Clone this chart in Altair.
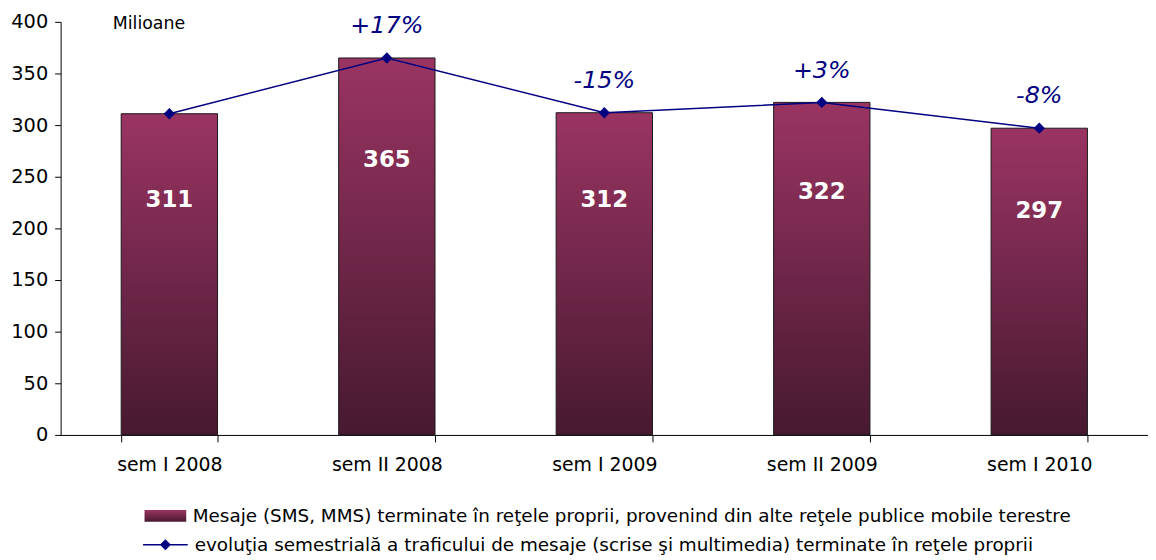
import altair as alt
import pandas as pd

categories = ["sem I 2008", "sem II 2008", "sem I 2009", "sem II 2009", "sem I 2010"]
messages = [311, 365, 312, 322, 297]
change_labels = ["", "+17%", "-15%", "+3%", "-8%"]
bar_series = "Mesaje (SMS, MMS) terminate în reţele proprii, provenind din alte reţele publice mobile terestre"
line_series = "evoluţia semestrială a traficului de mesaje (scrise şi multimedia) terminate în reţele proprii"

df = pd.DataFrame({
    "cat": categories,
    "value": messages,
    "chg": change_labels,
    "s1": [bar_series] * len(categories),
    "s2": [line_series] * len(categories),
})

FONT = "DejaVu Sans"
NAVY = "#000080"

x = alt.X(
    "cat:N", sort=categories, title=None,
    scale=alt.Scale(paddingInner=0.557, paddingOuter=0.2785),
    axis=alt.Axis(labelAngle=0, tickBand="extent", domainColor="black", tickColor="black",
                  tickSize=7, labelPadding=14, labelFontSize=19, labelColor="black", labelFont=FONT),
)
y = alt.Y(
    "value:Q", scale=alt.Scale(domain=[0, 400]),
    axis=alt.Axis(values=list(range(0, 401, 50)), title="Milioane", titleAngle=0, titleX=52, titleY=2,
                  titleAlign="left", titleBaseline="middle", titleFontWeight="normal", titleFontSize=17.5,
                  titleFont=FONT, titleColor="black", grid=False, domainColor="black", tickColor="black",
                  tickSize=6, labelPadding=7, labelFontSize=19.5, labelFont=FONT, labelColor="black"),
)

gradient = alt.Gradient(
    gradient="linear",
    stops=[alt.GradientStop(offset=0, color="#9a3462"), alt.GradientStop(offset=1, color="#471930")],
    x1=0, x2=0, y1=0, y2=1,
)

bars = alt.Chart(df).mark_bar(fill=gradient, stroke="#1a1a1a", strokeWidth=1).encode(
    x=x, y=y,
    opacity=alt.Opacity(
        "s1:O", scale=alt.Scale(range=[1]),
        legend=alt.Legend(title=None, orient="none", legendX=84, legendY=476,
                          symbolType="M-1,-0.28H1V0.28H-1Z", symbolSize=1764,
                          symbolFillColor="#6f2748", symbolStrokeColor="black", symbolStrokeWidth=1,
                          labelFontSize=18.5, labelFont=FONT, labelColor="black", labelLimit=1200,
                          labelOffset=6, padding=0),
    ),
)

value_labels = alt.Chart(df).transform_calculate(lab="datum.value * 0.73").mark_text(
    color="white", fontWeight="bold", fontSize=23, font=FONT, baseline="middle"
).encode(x=x, y=alt.Y("lab:Q"), text=alt.Text("value:Q"))

color = alt.Color(
    "s2:N", scale=alt.Scale(domain=[line_series], range=[NAVY]),
    legend=alt.Legend(title=None, orient="none", legendX=82, legendY=503,
                      symbolType="M-1,0H1M0,-0.2L0.2,0L0,0.2L-0.2,0Z", symbolSize=2025,
                      symbolFillColor=NAVY, symbolStrokeColor=NAVY, symbolStrokeWidth=1.5,
                      labelFontSize=18.5, labelFont=FONT, labelColor="black", labelLimit=1200,
                      labelOffset=6, padding=0),
)

line = alt.Chart(df).mark_line(strokeWidth=1.5).encode(x=x, y=y, color=color)
points = alt.Chart(df).mark_point(shape="diamond", filled=True, size=130, opacity=1).encode(x=x, y=y, color=color)

pct = alt.Chart(df).transform_filter("datum.chg != ''").mark_text(
    dy=-32, fontStyle="italic", color=NAVY, fontSize=24, font=FONT, baseline="middle"
).encode(x=x, y=y, text="chg:N")

chart = alt.layer(bars, value_labels, line, points, pct).properties(
    width=1095, height=416,
    autosize=alt.AutoSizeParams(type="none"),
    padding={"left": 53, "top": 12, "right": 0, "bottom": 122},
).configure_view(stroke=None)

chart.save("out.html", embed_options={"renderer": "svg", "actions": False})
